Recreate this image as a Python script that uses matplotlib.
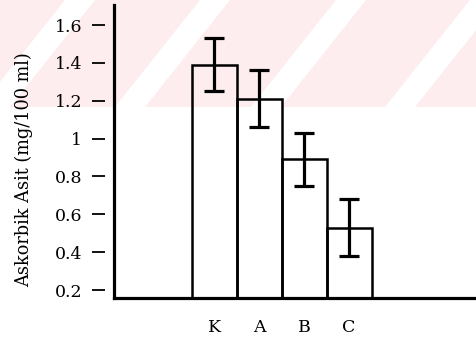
import matplotlib
matplotlib.use("Agg")
import matplotlib.pyplot as plt
from matplotlib.patches import Polygon, Rectangle

# ── Data ───────────────────────────────────────────────────────────────────────
groups = ["K", "A", "B", "C"]
means  = [1.39, 1.21, 0.89, 0.53]
errors = [0.14, 0.15, 0.14, 0.15]
yticks = [0.2, 0.4, 0.6, 0.8, 1.0, 1.2, 1.4, 1.6]
ytick_labels = ["0.2", "0.4", "0.6", "0.8", "1", "1.2", "1.4", "1.6"]

W, H = 476, 343
FONT = "DejaVu Serif"

fig = plt.figure(figsize=(W / 100, H / 100), dpi=100)
fig.patch.set_facecolor("white")


def px(x, y):
    # pixel (top-left origin) -> figure fraction
    return (x / W, 1 - y / H)


# faint pink watermark band with white diagonal stripes (scan artefact)
band_h = 107
fig.add_artist(Rectangle(px(0, band_h), 1, band_h / H, transform=fig.transFigure,
                         facecolor="#fdedef", edgecolor="none", zorder=-3))
for x0 in [-70, 65, 200, 336, 470]:
    poly = [px(x0, 0), px(x0 + 30, 0), px(x0 + 30 - 85, band_h), px(x0 - 85, band_h)]
    fig.add_artist(Polygon(poly, closed=True, transform=fig.transFigure,
                           facecolor="white", edgecolor="none", zorder=-2))

ax = fig.add_axes([114 / W, (H - 298) / H, (W - 114) / W, 293 / H])
ax.patch.set_alpha(0)

x = range(len(groups))
ax.bar(x, means, width=1.0, facecolor="none", edgecolor="black", linewidth=1.8, zorder=2)
ax.errorbar(x, means, yerr=errors, fmt="none", ecolor="black",
            elinewidth=2.3, capsize=7.5, capthick=2.3, zorder=3)

ax.set_xlim(-2.227, 5.82)
ax.set_ylim(0.158, 1.706)

ax.set_yticks(yticks, ytick_labels)
ax.set_xticks(list(x), groups)

ax.tick_params(axis="y", direction="out", length=9.4, width=1.3, pad=7, colors="black",
               labelsize=12.5, labelfontfamily=FONT)
ax.tick_params(axis="x", length=0, pad=15, labelsize=12.5, labelfontfamily=FONT)

# spines: ticks sit a little away from the axis line
ax.spines["top"].set_visible(False)
ax.spines["left"].set_position(("outward", 6.5))
ax.spines["left"].set_visible(False)
ax.spines["right"].set_position(("axes", 0))
ax.spines["right"].set_linewidth(2.3)
ax.spines["bottom"].set_linewidth(2.3)
ax.yaxis.set_ticks_position("left")

ax.set_ylabel("Askorbik Asit (mg/100 ml)", fontfamily=FONT, fontsize=12.8)
ax.yaxis.set_label_coords(-0.224, 0.4386)

fig.savefig("out.png", dpi=100)
